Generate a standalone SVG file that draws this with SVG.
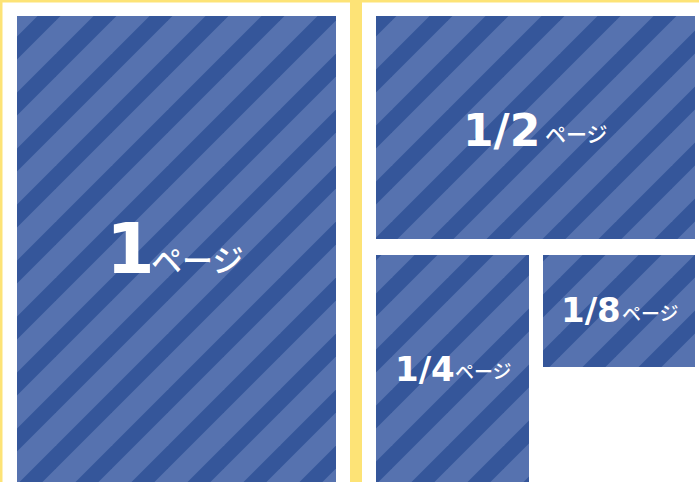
<svg xmlns="http://www.w3.org/2000/svg" width="699" height="482" viewBox="0 0 699 482">
<style>
.num{font-family:"DejaVu Sans","Liberation Sans",sans-serif;font-weight:bold;fill:#ffffff}
.kana{font-family:"Noto Sans CJK JP","Noto Sans",sans-serif;font-weight:500;fill:#ffffff}
.panel{fill:url(#stripes)}
</style>
<defs>
<pattern id="stripes" patternUnits="userSpaceOnUse" x="0" y="0" width="56" height="56">
<rect width="56" height="56" fill="#5672AF"/>
<polygon points="53.5,0 76.5,0 0,76.5 0,53.5" fill="#35569A"/>
<polygon points="-2.5,0 20.5,0 0,20.5 0,-2.5" fill="#35569A"/>
<polygon points="109.5,0 132.5,0 0,132.5 0,109.5" fill="#35569A"/>
</pattern>
</defs>
<rect width="699" height="482" fill="#ffffff"/>
<g id="frame" fill="#FDE376">
<rect x="0" y="0" width="699" height="2.5"/>
<rect x="0" y="0" width="2.5" height="482"/>
<rect x="350" y="0" width="12" height="482"/>
</g>
<g id="page-1">
<rect class="panel" x="17" y="16" width="319" height="466"/>
<text class="num" x="106" y="273" font-size="70">1</text>
<text class="kana" x="151" y="272" font-size="31">ページ</text>
</g>
<g id="page-1-2">
<rect class="panel" x="376" y="16" width="319" height="223"/>
<text class="num" x="463" y="146" font-size="44">1/2</text>
<text class="kana" x="545" y="142" font-size="21">ページ</text>
</g>
<g id="page-1-4">
<rect class="panel" x="376" y="255" width="153" height="227"/>
<text class="num" x="395" y="381" font-size="34">1/4</text>
<text class="kana" x="455" y="379" font-size="19">ページ</text>
</g>
<g id="page-1-8">
<rect class="panel" x="543" y="255" width="152" height="112"/>
<text class="num" x="561" y="322" font-size="34">1/8</text>
<text class="kana" x="622" y="321" font-size="19">ページ</text>
</g>
<g id="connectors"></g>
</svg>
